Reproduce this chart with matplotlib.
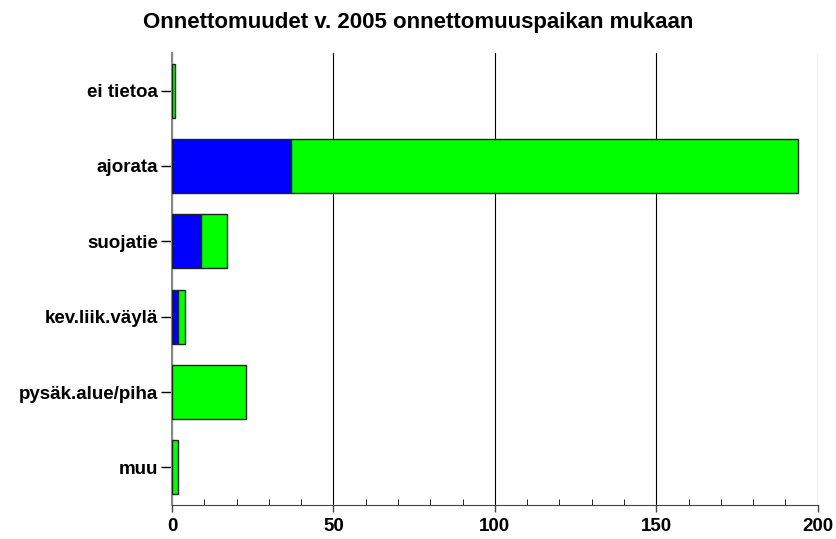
import matplotlib
matplotlib.use("Agg")
import matplotlib.pyplot as plt
from matplotlib.ticker import MultipleLocator

plt.rcParams['font.family'] = ['Liberation Sans', 'DejaVu Sans']

# data
categories = ['ei tietoa', 'ajorata', 'suojatie', 'kev.liik.väylä', 'pysäk.alue/piha', 'muu']
blue_vals = [0, 37, 9, 2, 0, 0]
green_vals = [1, 157, 8, 2, 23, 2]

fig = plt.figure(figsize=(8.37, 5.39), dpi=100)
ax = fig.add_axes([0.2055, 0.063, 0.7715, 0.8387])

y = list(range(len(categories)))
ax.barh(y, blue_vals, height=0.72, color='#0000ff', edgecolor='#222222', linewidth=1.0, zorder=3)
ax.barh(y, green_vals, left=blue_vals, height=0.72, color='#00ff00', edgecolor='#222222', linewidth=1.0, zorder=3)

ax.set_xlim(0, 200)
ax.set_ylim(len(categories) - 0.5, -0.5)
ax.set_yticks(y)
ax.set_yticklabels(categories, fontsize=13.5, fontweight='bold')

ax.xaxis.set_major_locator(MultipleLocator(50))
ax.xaxis.set_minor_locator(MultipleLocator(10))
ax.tick_params(axis='x', which='major', direction='out', length=5, width=1, color='#444444',
               labelsize=13.5, pad=4)
ax.tick_params(axis='x', which='minor', direction='in', length=4.5, color='black')
for lbl in ax.get_xticklabels():
    lbl.set_fontweight('bold')
ax.tick_params(axis='y', direction='out', length=8, width=1, color='black', pad=2)

ax.grid(True, axis='x', which='major', color='black', linewidth=0.8, zorder=1)

ax.spines['top'].set_visible(False)
ax.spines['right'].set_visible(False)
ax.spines['left'].set_color('#888888')
ax.spines['left'].set_linewidth(1.5)
ax.spines['bottom'].set_color('#444444')

fig.text(0.5, 0.958, 'Onnettomuudet v. 2005 onnettomuuspaikan mukaan',
         ha='center', va='center', fontsize=16, fontweight='bold')

fig.savefig('out.png', dpi=100)
